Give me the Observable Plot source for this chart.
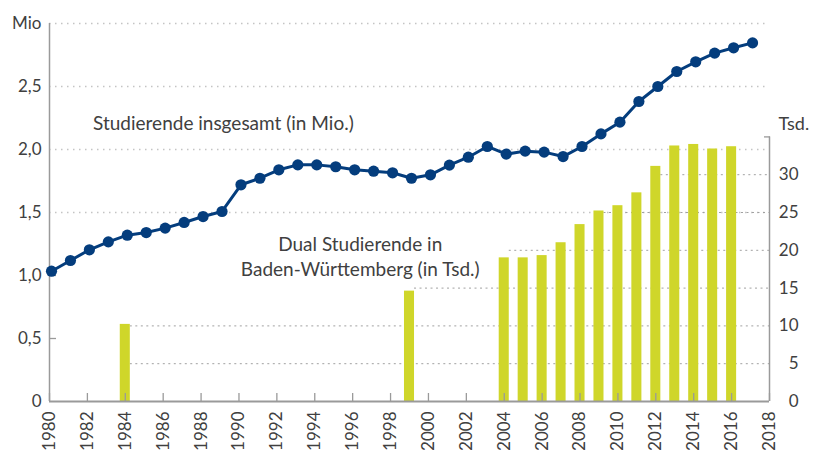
<!DOCTYPE html>
<html>
<head>
<meta charset="utf-8">
<script src="https://cdn.jsdelivr.net/npm/d3@7"></script>
<script src="https://cdn.jsdelivr.net/npm/@observablehq/plot@0.6"></script>
<style>
  html, body { margin: 0; padding: 0; background: #fff; }
</style>
</head>
<body>
<div id="chart"></div>
<script>
// ---- Data ----
const lineYears = [1980,1981,1982,1983,1984,1985,1986,1987,1988,1989,
                   1990,1991,1992,1993,1994,1995,1996,1997,1998,1999,
                   2000,2001,2002,2003,2004,2005,2006,2007,2008,2009,
                   2010,2011,2012,2013,2014,2015,2016,2017];
const studierendeMio = [1.034,1.119,1.204,1.267,1.320,1.341,1.376,1.421,1.468,1.508,
                        1.720,1.772,1.839,1.878,1.878,1.863,1.839,1.828,1.815,1.772,
                        1.799,1.876,1.939,2.024,1.963,1.987,1.979,1.944,2.024,2.124,
                        2.217,2.381,2.500,2.619,2.696,2.765,2.807,2.846];
const barYears = [1984,1999,2004,2005,2006,2007,2008,2009,2010,2011,2012,2013,2014,2015,2016];
const dualTsd  = [10.2,14.6,19.0,19.0,19.3,21.0,23.4,25.2,25.9,27.6,31.1,33.8,34.0,33.4,33.7];
const xTicks = [1980,1982,1984,1986,1988,1990,1992,1994,1996,1998,2000,2002,2004,2006,2008,2010,2012,2014,2016,2018];
const leftTicks = [0,0.5,1,1.5,2,2.5,3];
const leftGrid = [1.5,2,2.5,3];
const rightTicks = [0,5,10,15,20,25,30];
const rightGrid = [5,10,15,20,25,30];
const rightMax = 35;
const labelLine = "Studierende insgesamt (in Mio.)";
const labelBars = "Dual Studierende in\nBaden-Württemberg (in Tsd.)";
const labelLinePos = {year: 1982.3, mio: 2.2};
const labelBarsPos = {year: 1996.4, tsd: 19.3};

// ---- Build ----
const k = 0.06; // Mio per Tsd (ratio between the two y axes)
const xDomain = [1980, 2018];
const hw = 0.265; // half bar width in years
const lineData = lineYears.map((year, i) => ({year, v: studierendeMio[i]}));
const barData = barYears.map((year, i) => ({year, v: dualTsd[i]}));
const gridStart = t => { const b = barData.find(d => d.v >= t - 1); return (b ? b.year : xDomain[0]) + hw; };

const font = "'Source Sans Pro', Lato, sans-serif";
const textColor = "#404040";
const axisColor = "#9a9a9a";
const navy = "#043d7d";
const lime = "#cfd62a";

const chart = Plot.plot({
  width: 827,
  height: 450,
  marginLeft: 49,
  marginRight: 58,
  marginTop: 23,
  marginBottom: 49,
  style: {fontFamily: font, fontSize: "17px", color: textColor, background: "white"},
  x: {domain: xDomain},
  y: {domain: [0, 3]},
  marks: [
    // grid lines
    Plot.ruleY(leftGrid, {x1: xDomain[0], x2: xDomain[1], stroke: "#c4c4c4", strokeWidth: 1.3, strokeDasharray: "1.5,4.5"}),
    Plot.ruleY(rightGrid, {y: t => t * k, x1: t => gridStart(t), x2: xDomain[1], stroke: "#a0a0a0", strokeWidth: 1, strokeDasharray: "2,3.5"}),
    // bars
    Plot.rectY(barData, {x1: d => d.year - hw, x2: d => d.year + hw, y1: 0, y2: d => d.v * k, fill: lime}),
    // axis lines
    Plot.ruleX([xDomain[0]], {y1: 0, y2: 3, stroke: axisColor, strokeWidth: 1.5}),
    Plot.ruleX([xDomain[1]], {y1: 0, y2: rightMax * k, stroke: axisColor, strokeWidth: 1.5}),
    Plot.ruleY([0], {x1: xDomain[0], x2: xDomain[1], stroke: axisColor, strokeWidth: 2}),
    // bottom ticks (inward) and labels
    Plot.axisX({ticks: xTicks, tickSize: 8, dy: -8, fill: "none", stroke: axisColor, strokeWidth: 1.3, label: null}),
    Plot.axisX({ticks: xTicks, tickSize: 0, tickPadding: 10, tickRotate: -90, tickFormat: d => String(d), fill: textColor, fontSize: 17, label: null}),
    // left axis
    Plot.axisY({anchor: "left", ticks: [0.5, 1], tickSize: 7, dx: 7, fill: "none", stroke: axisColor, strokeWidth: 1.3, label: null}),
    Plot.axisY({anchor: "left", ticks: leftTicks, tickSize: 0, tickPadding: 8,
      tickFormat: d => d === 3 ? "Mio" : d === 0 ? "0" : d.toFixed(1).replace(".", ","), fill: textColor, fontSize: 17, label: null}),
    // right axis
    Plot.axisY({anchor: "right", ticks: [rightMax * k], tickSize: 6, dx: -6, fill: "none", stroke: axisColor, strokeWidth: 1.3, label: null}),
    Plot.text(rightTicks, {x: xDomain[1], y: t => t * k, text: t => String(t), textAnchor: "end", dx: 29, fill: textColor, fontSize: 17}),
    Plot.text(["Tsd."], {x: xDomain[1], y: rightMax * k, text: d => d, textAnchor: "start", dx: 9, dy: -13, fill: textColor, fontSize: 18}),
    // line
    Plot.line(lineData, {x: "year", y: "v", stroke: navy, strokeWidth: 3, dx: 2}),
    Plot.dot(lineData, {x: "year", y: "v", r: 5.6, fill: navy, dx: 2}),
    // annotations
    Plot.text([labelLine], {x: labelLinePos.year, y: labelLinePos.mio, text: d => d, textAnchor: "start", fill: textColor, fontSize: 19}),
    Plot.text([labelBars], {x: labelBarsPos.year, y: labelBarsPos.tsd * k, text: d => d, textAnchor: "middle", lineAnchor: "middle", lineHeight: 1.3, fill: textColor, fontSize: 19})
  ]
});
document.getElementById("chart").appendChild(chart);
</script>
</body>
</html>
